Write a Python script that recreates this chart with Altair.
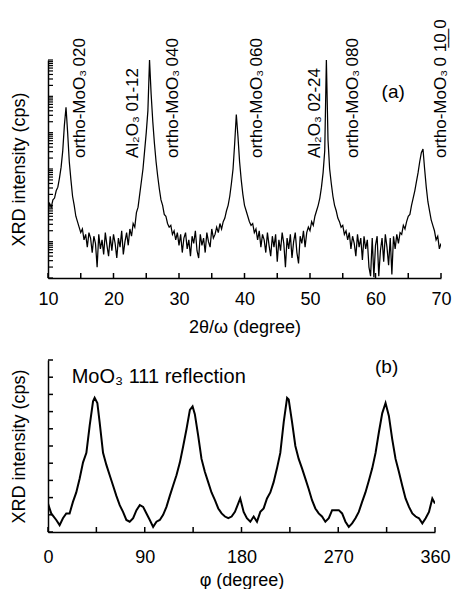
import altair as alt
import pandas as pd

# ---------------- Panel (a): 2theta/omega scan (log10 of intensity) ----------------
scan_start = 10.0
scan_step = 0.25
log_cps = [
    1.90, 2.05, 1.95, 2.15, 2.20, 2.40, 2.50, 2.75,
    3.05, 3.50, 4.20, 4.70, 4.00, 3.20, 2.70, 2.25,
    2.00, 1.70, 1.55, 1.40, 1.25, 1.35, 1.05, 1.20,
    0.85, 1.25, 1.10, 0.70, 1.15, 0.95, 0.30, 1.20,
    0.80, 1.05, 0.65, 1.25, 0.90, 0.60, 1.15, 0.75,
    1.20, 0.95, 0.55, 1.10, 0.85, 1.30, 0.65, 1.00,
    1.25, 0.90, 1.35, 1.15, 1.50, 1.40, 1.80, 1.95,
    2.30, 2.65, 3.00, 3.50, 4.00, 4.60, 6.00, 5.05,
    4.30, 3.70, 3.20, 2.80, 2.45, 2.15, 2.00, 1.75,
    1.70, 1.50, 1.40, 1.45, 1.20, 1.30, 1.05, 1.25,
    0.90, 1.20, 0.70, 1.10, 1.25, 0.80, 1.05, 0.60,
    1.15, 0.95, 1.30, 0.75, 0.55, 1.20, 0.90, 1.10,
    0.70, 1.25, 1.00, 0.85, 1.35, 1.10, 1.20, 1.40,
    1.25, 1.50, 1.35, 1.55, 1.65, 1.85, 2.00, 2.25,
    2.60, 3.00, 3.70, 4.50, 3.90, 3.20, 2.70, 2.30,
    2.00, 1.85, 1.70, 1.55, 1.45, 1.50, 1.25, 1.35,
    1.05, 1.30, 0.85, 1.20, 1.05, 0.70, 1.25, 0.90,
    0.60, 1.15, 0.85, 1.20, 0.45, 1.05, 0.75, 1.25,
    0.95, 0.30, 1.10, 0.80, 1.20, 0.55, 1.00, 1.25,
    0.70, 0.40, 1.15, 0.95, 1.30, 0.85, 1.25, 1.40,
    1.30, 1.55, 1.45, 1.70, 1.85, 2.00, 2.20, 2.50,
    2.90, 3.50, 6.00, 3.80, 3.00, 2.60, 2.25, 2.00,
    1.85, 1.65, 1.55, 1.40, 1.45, 1.20, 1.30, 1.05,
    1.25, 0.80, 1.15, 0.95, 0.60, 1.20, 0.85, 1.10,
    0.50, 1.15, 0.80, 1.05, 0.30, 0.05, 1.10, 0.02,
    0.90, 1.15, 0.05, 0.75, 1.10, 0.45, 1.20, 0.85,
    0.35, 1.10, 0.10, 1.15, 0.80, 1.20, 0.95, 1.25,
    1.20, 1.45, 1.35, 1.55, 1.70, 1.75, 2.00, 2.20,
    2.40, 2.65, 2.90, 3.20, 3.45, 3.55, 3.00, 2.50,
    2.10, 1.85, 1.60, 1.45, 1.30, 1.05, 1.15, 0.80,
    0.95,
]
two_theta = [round(scan_start + scan_step * i, 2) for i in range(len(log_cps))]

a_x_labels = [10, 20, 30, 40, 50, 60, 70]
a_x_ticks = [10, 15, 20, 25, 30, 35, 40, 45, 50, 55, 60, 65, 70]
a_decades = [0, 1, 2, 3, 4, 5]

peak_labels = ["ortho-MoO\u2083\u2009020", "Al\u2082O\u2083 01-12", "ortho-MoO\u2083\u2009040",
               "ortho-MoO\u2083\u2009060", "Al\u2082O\u2083 02-24", "ortho-MoO\u2083\u2009080",
               "ortho-MoO\u2083\u20090 1\u03320\u0332 0"]
peak_label_x = [14.9, 23.0, 29.1, 41.9, 50.8, 56.6, 70.0]
peak_label_y = [2000] * 7

# ---------------- Panel (b): phi scan ----------------
phi_deg = [
    0, 3, 7.7, 10.8, 13.9, 17, 20.1, 23.2, 26.3, 29.4,
    32.6, 35.7, 38.8, 41.9, 43.4, 45.9, 48, 51.2, 54.3, 57.4,
    60.5, 63.6, 66.7, 69.8, 72.9, 76, 79.2, 82.3, 85.4, 88.5,
    91.6, 94.7, 97.8, 100.9, 104, 107.1, 110.2, 113.3, 116.4, 119.5,
    122.7, 125.8, 128.9, 132, 134.5, 136.6, 139.7, 142.8, 145.9, 149,
    152.1, 155.3, 158.4, 161.5, 164.6, 167.7, 170.8, 173.9, 178.8, 182,
    185, 188.2, 191.3, 194.4, 197.5, 200.6, 203.7, 206.8, 209.9, 213,
    216.1, 219.3, 222.4, 223.9, 227, 230.1, 233.2, 236.3, 239.4, 242.5,
    245.6, 248.7, 251.8, 254.9, 258, 261.2, 264.3, 267.4, 270.5, 273.6,
    276.7, 279.8, 282.9, 286, 289.1, 292.2, 295.3, 298.5, 301.6, 304.7,
    307.8, 310.9, 314, 317.1, 320.2, 323.3, 326.4, 329.5, 332.6, 335.8,
    338.9, 342, 345.1, 348.2, 351.3, 354.4, 357.5, 360,
]
phi_intensity = [
    1.65, 1.08, 0.7, 0.4, 0.8, 1.08, 1.08, 1.75, 2.3, 3.1,
    4.05, 4.6, 6.2, 7.6, 7.8, 7.5, 6.4, 4.6, 3.9, 3.3,
    2.7, 2.1, 1.56, 1.17, 0.7, 0.6, 0.8, 1.27, 1.56, 1.46,
    1.08, 0.7, 0.3, 0.6, 0.7, 1.0, 1.46, 2.1, 2.7, 3.3,
    4.05, 5.0, 6.0, 7.1, 7.3, 6.85, 5.6, 4.25, 3.5, 2.9,
    2.3, 1.85, 1.37, 1.08, 0.9, 0.8, 0.9, 1.17, 1.95, 1.17,
    0.8, 0.6, 0.9, 0.6, 1.17, 1.37, 1.95, 2.3, 2.9, 3.7,
    4.6, 6.4, 7.8, 7.7, 6.4, 5.0, 4.25, 3.7, 3.1, 2.5,
    1.85, 1.37, 1.08, 0.9, 0.6, 0.8, 1.27, 1.27, 1.27, 1.08,
    0.6, 0.3, 0.5, 0.8, 1.17, 1.75, 2.3, 3.0, 3.7, 4.6,
    5.8, 6.9, 7.5, 6.75, 5.4, 4.25, 3.5, 2.7, 1.95, 1.46,
    1.08, 0.9, 0.8, 0.5, 0.8, 1.17, 1.95, 1.65,
]
b_x_labels = [0, 90, 180, 270, 360]
b_x_ticks = [0, 45, 90, 135, 180, 225, 270, 315, 360]
b_y_ticks = [0, 1, 2, 3, 4, 5, 6, 7, 8, 9, 10]

FONT = "Liberation Sans"
W_A, H_A = 393, 218
W_B, H_B = 387, 172
TICK = 5

# ---------- build tables (shared field names per panel) ----------
df_a = pd.DataFrame({"tt": two_theta, "cps": [10 ** v for v in log_cps]})
ytick_vals = [k * 10 ** d for d in a_decades for k in range(1, 10)] + [10 ** 6]
df_a_yt = pd.DataFrame({"cps": ytick_vals})
df_a_xt = pd.DataFrame({"tt": a_x_ticks})
df_a_lab = pd.DataFrame({"label": peak_labels, "tt": peak_label_x, "cps": peak_label_y})
df_a_tag = pd.DataFrame({"label": ["(a)"], "tt": [62.7], "cps": [1.3e5]})

xs_a = alt.Scale(domain=[10, 70], nice=False, zero=False)
ys_a = alt.Scale(type="log", domain=[1, 1e6], nice=False)

ax_xa = alt.Axis(values=a_x_labels, ticks=False, tickSize=0, grid=False, domainColor="black",
                 domainWidth=1.5, labelFontSize=18, labelColor="black", labelPadding=12,
                 labelFlush=False, title="2\u03b8/\u03c9 (degree)", titleFontSize=18,
                 titleFontWeight="normal", titleColor="black", titlePadding=10)
ax_ya = alt.Axis(labels=False, ticks=False, tickSize=0, grid=False, domainColor="black",
                 domainWidth=1.5, title="XRD intensity (cps)", titleFontSize=18,
                 titleFontWeight="normal", titleColor="black", titlePadding=20)

X_A = alt.X("tt:Q", scale=xs_a, axis=ax_xa)
Y_A = alt.Y("cps:Q", scale=ys_a, axis=ax_ya)

line_a = alt.Chart(df_a).mark_line(color="black", strokeWidth=1.25, clip=True).encode(x=X_A, y=Y_A)
ytk_a = alt.Chart(df_a_yt).mark_rule(color="black", strokeWidth=1.2).encode(
    y=Y_A, x=alt.value(0), x2=alt.value(TICK))
xtk_a = alt.Chart(df_a_xt).mark_rule(color="black", strokeWidth=1.5).encode(
    x=X_A, y=alt.value(H_A), y2=alt.value(H_A - TICK))
lab_a = alt.Chart(df_a_lab).mark_text(angle=270, align="left", baseline="middle",
                                      fontSize=17, font=FONT, color="black").encode(
    x=X_A, y=Y_A, text="label:N")
tag_a = alt.Chart(df_a_tag).mark_text(align="center", baseline="middle", fontSize=19,
                                      font=FONT, color="black").encode(
    x=X_A, y=Y_A, text="label:N")

panel_a = alt.layer(line_a, ytk_a, xtk_a, lab_a, tag_a).properties(width=W_A, height=H_A)

df_b = pd.DataFrame({"phi": phi_deg, "I": phi_intensity})
df_b_xt = pd.DataFrame({"phi": b_x_ticks})
df_b_yt = pd.DataFrame({"I": b_y_ticks})
df_b_txt = pd.DataFrame({"label": ["MoO\u2083 111 reflection"], "phi": [22.0], "I": [9.0]})
df_b_tag = pd.DataFrame({"label": ["(b)"], "phi": [315.0], "I": [9.6]})

xs_b = alt.Scale(domain=[0, 360], nice=False, zero=False)
ys_b = alt.Scale(domain=[0, 10], nice=False, zero=False)

ax_xb = alt.Axis(values=b_x_labels, ticks=False, tickSize=0, grid=False, domainColor="black",
                 domainWidth=1.5, labelFontSize=18, labelColor="black", labelPadding=16,
                 labelFlush=False, title="\u03c6 (degree)", titleFontSize=18,
                 titleFontWeight="normal", titleColor="black", titlePadding=5)
ax_yb = alt.Axis(labels=False, ticks=False, tickSize=0, grid=False, domainColor="black",
                 domainWidth=1.5, title="XRD intensity (cps)", titleFontSize=18,
                 titleFontWeight="normal", titleColor="black", titlePadding=20)
X_B = alt.X("phi:Q", scale=xs_b, axis=ax_xb)
Y_B = alt.Y("I:Q", scale=ys_b, axis=ax_yb)

line_b = alt.Chart(df_b).mark_line(color="black", strokeWidth=2, clip=True).encode(x=X_B, y=Y_B)
ytk_b = alt.Chart(df_b_yt).mark_rule(color="black", strokeWidth=1.5).encode(
    y=Y_B, x=alt.value(0), x2=alt.value(TICK))
xtk_b = alt.Chart(df_b_xt).mark_rule(color="black", strokeWidth=1.5).encode(
    x=X_B, y=alt.value(H_B), y2=alt.value(H_B - TICK))
txt_b = alt.Chart(df_b_txt).mark_text(align="left", baseline="middle", fontSize=20,
                                      font=FONT, color="black").encode(
    x=X_B, y=Y_B, text="label:N")
tag_b = alt.Chart(df_b_tag).mark_text(align="center", baseline="middle", fontSize=19,
                                      font=FONT, color="black").encode(
    x=X_B, y=Y_B, text="label:N")

panel_b = alt.layer(line_b, ytk_b, xtk_b, txt_b, tag_b).properties(width=W_B, height=H_B)

chart = alt.vconcat(panel_a, panel_b, spacing=82, bounds="flush").properties(
    padding={"left": 2, "top": 11, "right": 0, "bottom": 0}
).configure(font=FONT).configure_view(stroke=None).configure_axis(labelFont=FONT, titleFont=FONT)

chart.save("out.html", embed_options={"renderer": "svg", "actions": False})
